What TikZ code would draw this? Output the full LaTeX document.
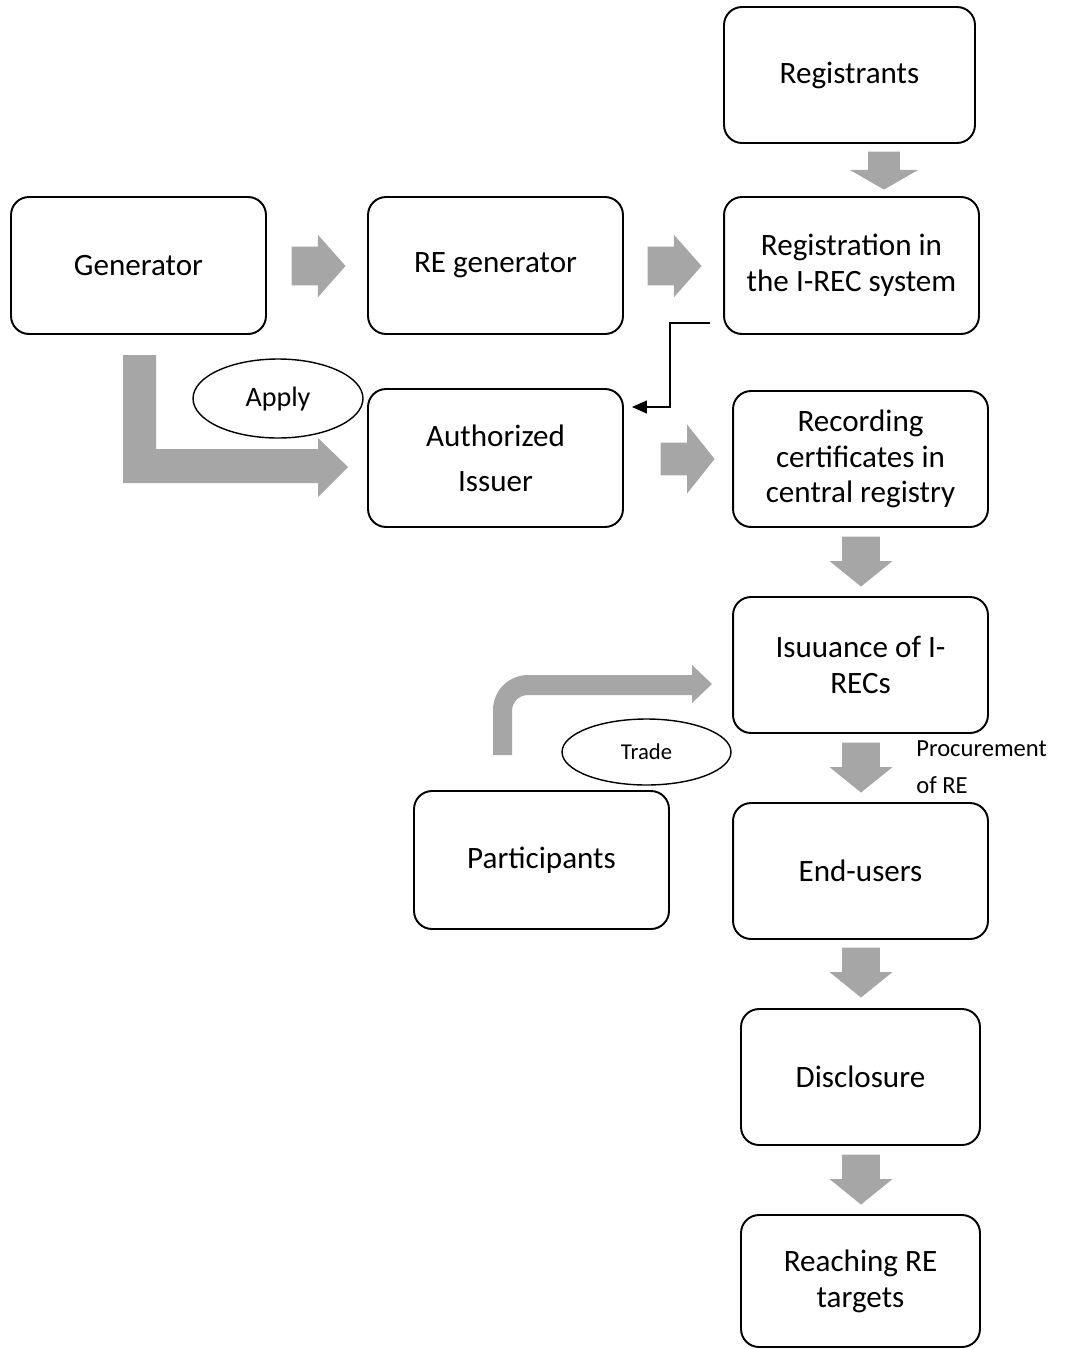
\documentclass[tikz,border=0pt]{standalone}
\usepackage{fontspec}
\setmainfont{Carlito}
\usetikzlibrary{shapes.arrows,shapes.geometric,arrows.meta}
\definecolor{arrowgray}{HTML}{A6A6A6}
\tikzset{
  box/.style={draw,line width=1.1pt,rounded corners=0.36cm,align=center,inner sep=0pt,
    font=\fontsize{17.7}{20.4}\selectfont},
  oval/.style={draw,ellipse,fill=white,line width=0.8pt,inner sep=0pt},
  blk/.style={single arrow,fill=arrowgray,inner xsep=0pt,single arrow head indent=0pt,anchor=tip}
}
\begin{document}
\begin{tikzpicture}[x=0.02cm,y=-0.02cm]
\useasboundingbox (0,0) rectangle (1068,1349);
\foreach \n/\x/\y/\w/\h/\t in {reg/849.5/75/5.02/2.72/Registrants,
    gen/138.5/265.5/5.1/2.74/Generator, regen/495.5/265.5/5.1/2.74/RE generator,
    sys/851.5/265.5/5.1/2.74/Registration in\\the I-REC system,
    record/860.5/459/5.1/2.72/Recording\\certificates in\\central registry,
    issue/860.5/665/5.1/2.72/Isuuance of I-\\RECs,
    part/541.5/860/5.1/2.76/Participants, endu/860.5/871/5.1/2.72/End-users,
    disc/860.5/1077/4.78/2.72/Disclosure, reach/860.5/1281/4.78/2.64/Reaching RE\\targets}{
  \node[box,minimum width=\w cm,minimum height=\h cm] (\n) at (\x,\y) {\t};
}
\node[box,minimum width=5.1cm,minimum height=2.76cm,font=\fontsize{17.7}{25.5}\selectfont]
  (issuer) at (495.5,458) {Authorized\\Issuer};
\node[blk,minimum height=1.08cm,inner ysep=0.38cm,single arrow head extend=0.24cm,
  single arrow tip angle=97] (a1) at (346,266) {};
\node[blk,minimum height=1.08cm,inner ysep=0.38cm,single arrow head extend=0.24cm,
  single arrow tip angle=97] (a2) at (702,266) {};
\node[blk,minimum height=1.08cm,inner ysep=0.32cm,single arrow head extend=0.36cm,
  single arrow tip angle=103] (a3) at (715,459) {};
\node[blk,rotate=-90,minimum height=0.76cm,inner ysep=0.31cm,single arrow head extend=0.37cm,
  single arrow tip angle=120] (a4) at (884,190) {};
\foreach \n/\y in {a5/587,a6/793,a7/998,a8/1205}
  \node[blk,rotate=-90,minimum height=1cm,inner ysep=0.37cm,single arrow head extend=0.25cm,
    single arrow tip angle=102] (\n) at (861,\y) {};
\fill[arrowgray] (123,355) -- (156,355) -- (156,449) -- (318,449) -- (318,438) -- (348,467)
  -- (318,497) -- (318,483) -- (123,483) -- cycle;
\fill[arrowgray] (493,755) -- (493,710) arc[start angle=180,end angle=270,radius=35]
  -- (692,675) -- (692,665) -- (712,684) -- (692,703) -- (692,695) -- (528,695)
  arc[start angle=270,end angle=180,radius=16] -- (512,755) -- cycle;
\node[oval,minimum width=3.4cm,minimum height=1.58cm,font=\fontsize{16}{18}\selectfont]
  (apply) at (278,398.5) {Apply};
\node[oval,minimum width=3.38cm,minimum height=1.32cm,font=\fontsize{12.9}{15}\selectfont]
  (trade) at (646.5,752) {Trade};
\node[anchor=west,align=left,inner sep=0pt,font=\fontsize{14}{21}\selectfont]
  (proc) at (916,767.5) {Procurement\\of RE};
\coordinate (sysout) at (710,323);
\coordinate (issin) at (632,407);
\draw[line width=0.75pt,-{Triangle[length=8.5pt,width=7.4pt]}] (sysout) -- ++(-40,0) |- (issin);
\end{tikzpicture}
\end{document}
